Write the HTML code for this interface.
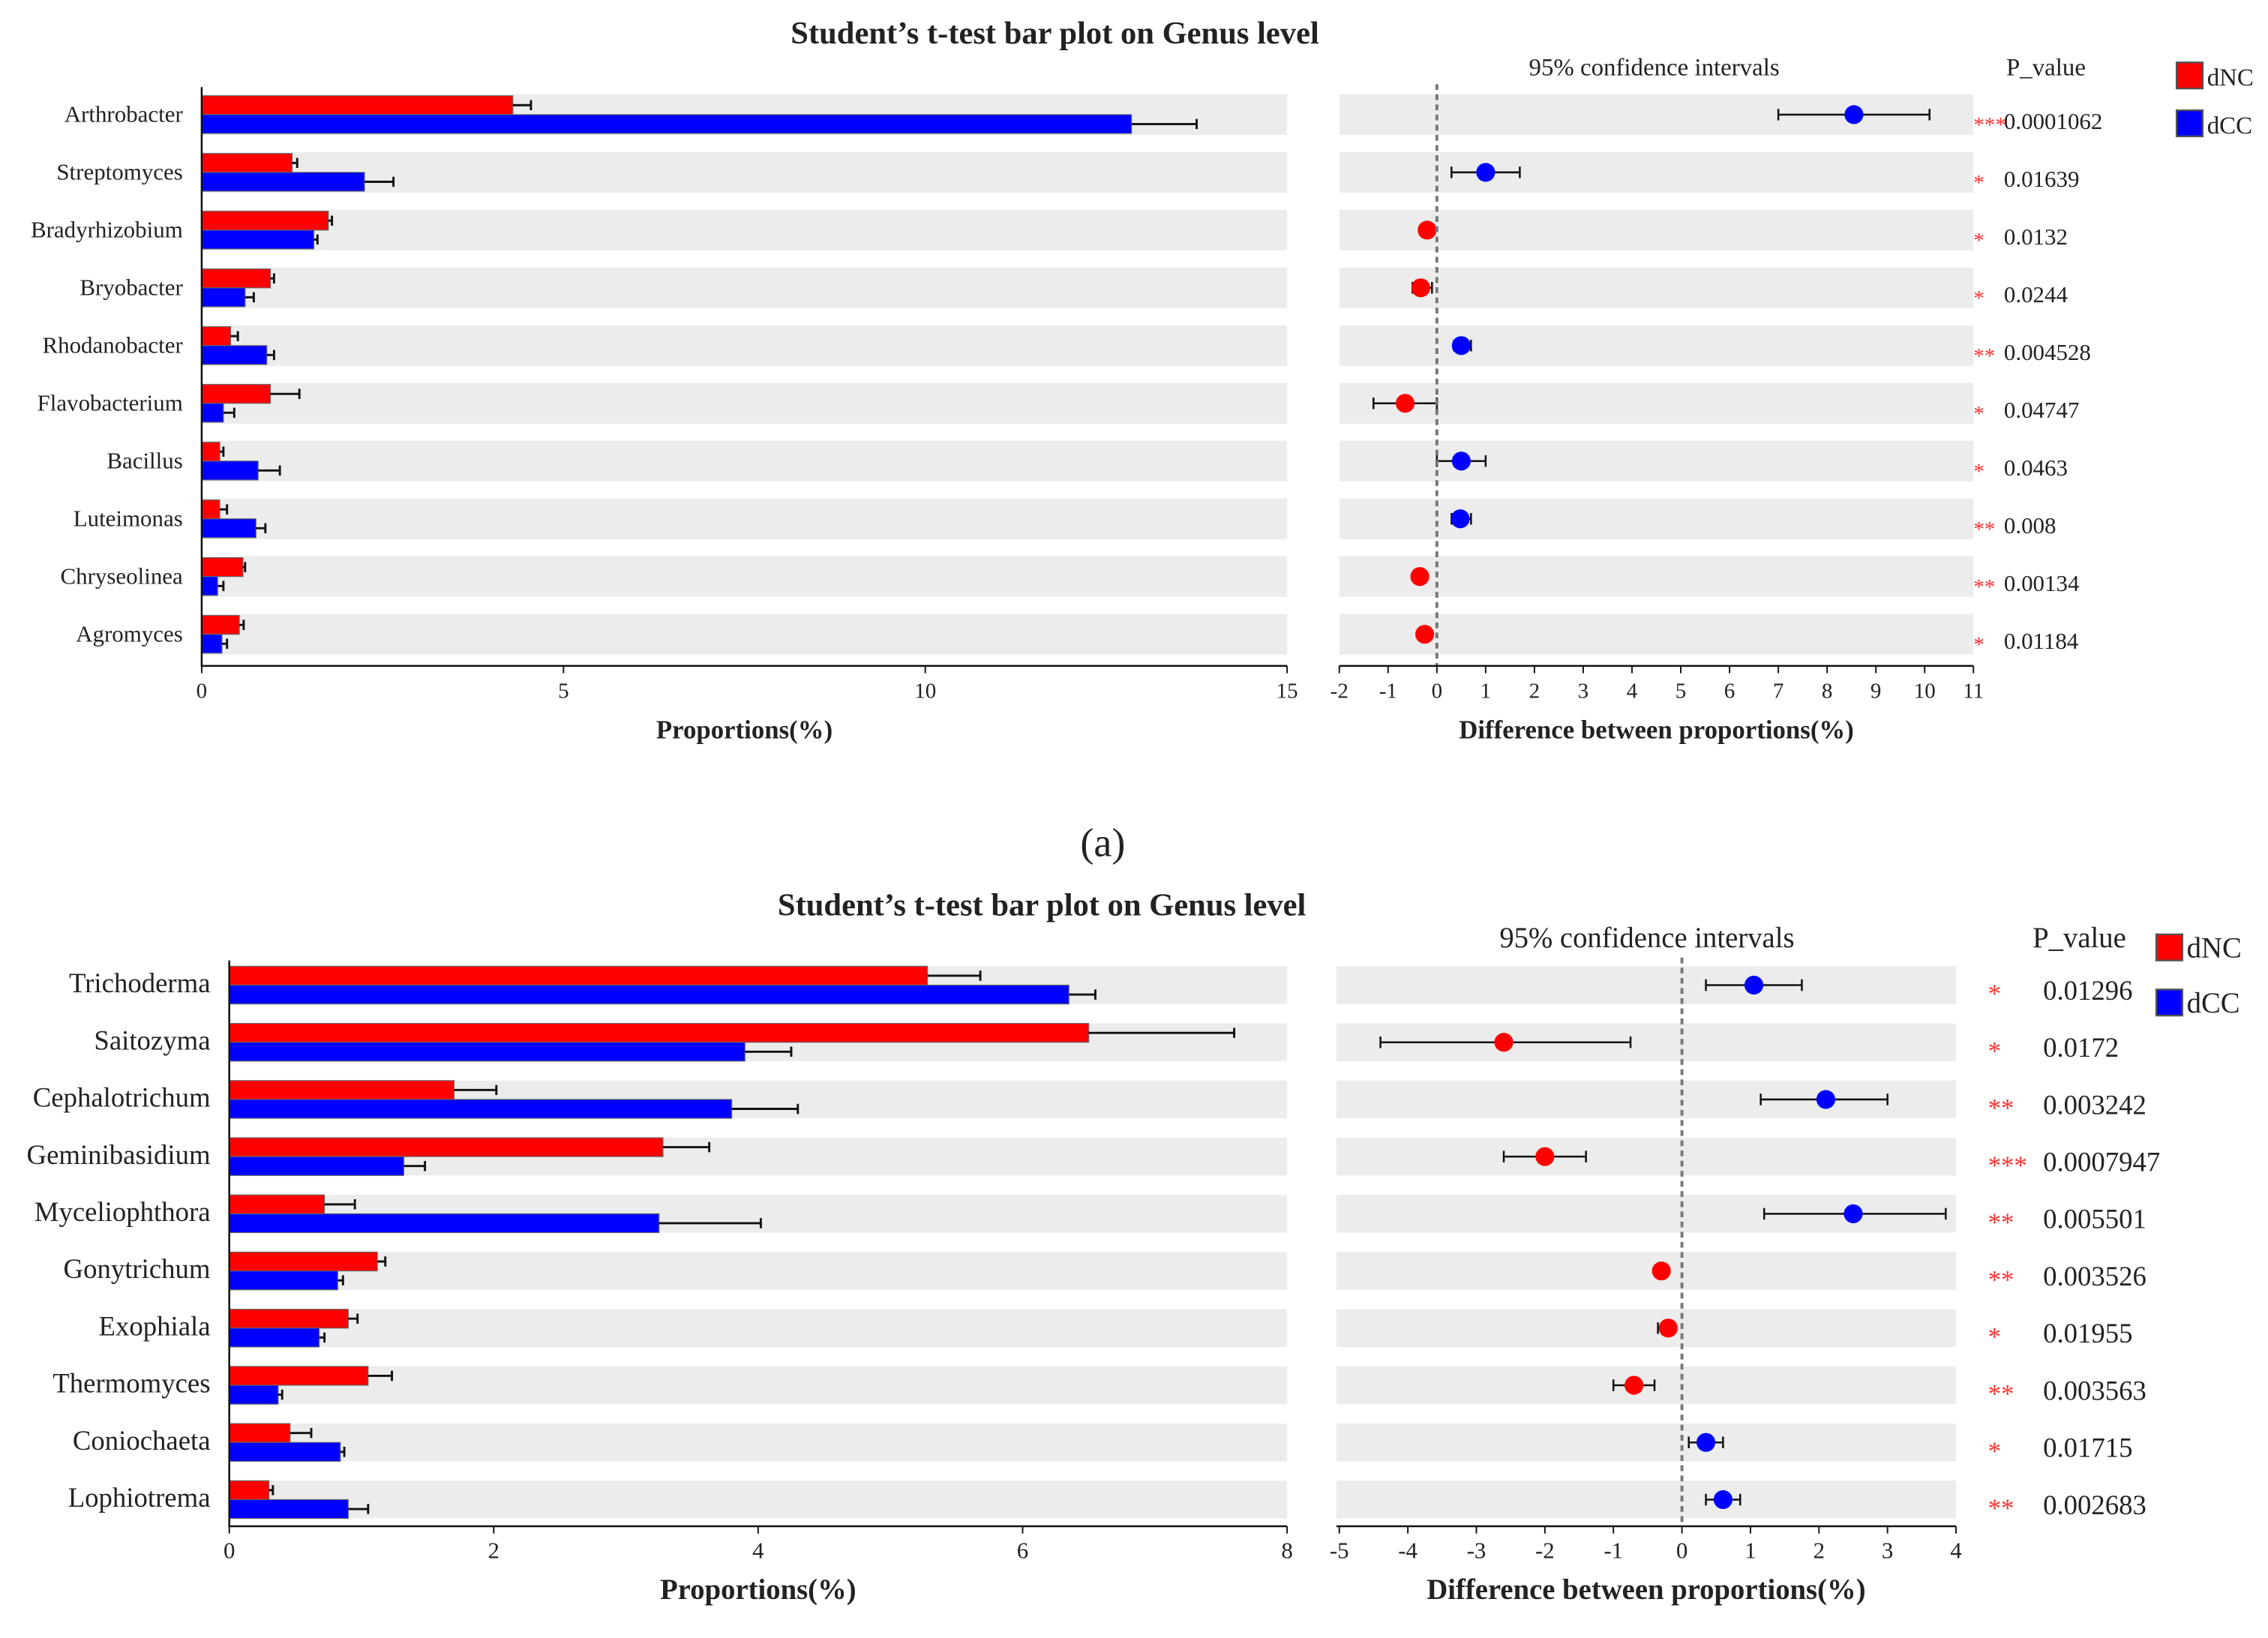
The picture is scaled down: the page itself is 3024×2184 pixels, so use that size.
<!DOCTYPE html>
<html><head><meta charset="utf-8">
<style>html,body{margin:0;padding:0;background:#fff;}svg{display:block;}text{font-family:"Liberation Serif",serif;fill:#222;}</style>
</head><body>
<svg id="chart" width="3024" height="2184" viewBox="0 0 1563 1129" preserveAspectRatio="none" xmlns="http://www.w3.org/2000/svg"></svg>
<script>
// Panel (a)
const catsA = ["Arthrobacter","Streptomyces","Bradyrhizobium","Bryobacter","Rhodanobacter","Flavobacterium","Bacillus","Luteimonas","Chryseolinea","Agromyces"];
const ncA = [4.3,1.25,1.75,0.95,0.4,0.95,0.25,0.25,0.57,0.52];
const ncErrA = [0.25,0.07,0.05,0.05,0.1,0.4,0.05,0.1,0.03,0.06];
const ccA = [12.85,2.25,1.55,0.6,0.9,0.3,0.78,0.75,0.22,0.28];
const ccErrA = [0.9,0.4,0.05,0.12,0.1,0.15,0.3,0.13,0.08,0.07];
const diffA = [8.55,1.0,-0.2,-0.33,0.5,-0.65,0.5,0.48,-0.35,-0.25];
const loA = [7.0,0.3,-0.3,-0.5,0.35,-1.3,0,0.3,-0.45,-0.35];
const hiA = [10.1,1.7,-0.1,-0.1,0.7,0,1.0,0.7,-0.25,-0.15];
const pA = ["0.0001062","0.01639","0.0132","0.0244","0.004528","0.04747","0.0463","0.008","0.00134","0.01184"];
const starsA = ["***","*","*","*","**","*","*","**","**","*"];
const ticksLA = [0,5,10,15];
const ticksRA = [-2,-1,0,1,2,3,4,5,6,7,8,9,10,11];
// Panel (b)
const catsB = ["Trichoderma","Saitozyma","Cephalotrichum","Geminibasidium","Myceliophthora","Gonytrichum","Exophiala","Thermomyces","Coniochaeta","Lophiotrema"];
const ncB = [5.28,6.5,1.7,3.28,0.72,1.12,0.9,1.05,0.46,0.3];
const ncErrB = [0.4,1.1,0.32,0.35,0.23,0.06,0.07,0.18,0.16,0.03];
const ccB = [6.35,3.9,3.8,1.32,3.25,0.82,0.68,0.37,0.84,0.9];
const ccErrB = [0.2,0.35,0.5,0.16,0.77,0.04,0.04,0.03,0.03,0.15];
const diffB = [1.05,-2.6,2.1,-2.0,2.5,-0.3,-0.2,-0.7,0.35,0.6];
const loB = [0.35,-4.4,1.15,-2.6,1.2,-0.4,-0.35,-1.0,0.1,0.35];
const hiB = [1.75,-0.75,3.0,-1.4,3.85,-0.2,-0.1,-0.4,0.6,0.85];
const pB = ["0.01296","0.0172","0.003242","0.0007947","0.005501","0.003526","0.01955","0.003563","0.01715","0.002683"];
const starsB = ["*","*","**","***","**","**","*","**","*","**"];
const ticksLB = [0,2,4,6,8];
const ticksRB = [-5,-4,-3,-2,-1,0,1,2,3,4];

const svg = document.getElementById('chart');
const NS = "http://www.w3.org/2000/svg";
function mk(tag, attrs, parent, txt){
  const e = document.createElementNS(NS, tag);
  for (const k in attrs) e.setAttribute(k, attrs[k]);
  if (txt !== undefined) e.textContent = txt;
  (parent||svg).appendChild(e);
  return e;
}

function panel(o){
  const g = mk('g', {});
  
  
  const t = mk('text', {x:o.titleX, y:o.titleY, 'font-size':o.tfs, 'font-weight':'bold', 'text-anchor':'middle'}, g, "Student\u2019s t-test bar plot on Genus level");
  
  
  const xL = v => o.lx0 + (v - o.lmin) / (o.lmax - o.lmin) * (o.lx1 - o.lx0);
  const xR = v => o.rx0 + (v - o.rmin) / (o.rmax - o.rmin) * (o.rx1 - o.rx0);
  const yC = i => o.y0 + i * o.dy;
  const bh = o.bh;
  o.cats.forEach((c, i) => {
    const y = yC(i);
    const b1 = mk('rect', {x:o.lx0, y:y-o.band/2, width:o.lx1-o.lx0, height:o.band, fill:'#ececec'}, g);
    
    
    const b2 = mk('rect', {x:o.rbx0, y:y-o.band/2, width:o.rx1-o.rbx0, height:o.band, fill:'#ececec'}, g);
    
    
    const lab = mk('text', {x:o.lx0-13, y:y+5, 'font-size':o.fs, 'text-anchor':'end'}, g, c);
    
    
    const r = mk('rect', {x:xL(0), y:y-bh, width:xL(o.nc[i])-xL(0), height:bh, fill:'#ff0000', stroke:'#666', 'stroke-width':0.6}, g);
    
    
    const b = mk('rect', {x:xL(0), y:y, width:xL(o.cc[i])-xL(0), height:bh, fill:'#0000ff', stroke:'#666', 'stroke-width':0.6}, g);
    
    
    [[o.nc[i], o.ncE[i], y-bh/2],[o.cc[i], o.ccE[i], y+bh/2]].forEach(([v,e,yy]) => {
      const eb = mk('path', {d:`M${xL(v)},${yy}H${xL(v+e)}M${xL(v+e)},${yy-3.5}V${yy+3.5}`, stroke:'#111', 'stroke-width':1.5, fill:'none'}, g);
      
      
    });
    const ci = mk('path', {d:`M${xR(o.lo[i])},${y}H${xR(o.hi[i])}M${xR(o.lo[i])},${y-4}V${y+4}M${xR(o.hi[i])},${y-4}V${y+4}`, stroke:'#111', 'stroke-width':1.3, fill:'none'}, g);
    
    
    const p = mk('circle', {cx:xR(o.diff[i]), cy:y, r:6.5, fill:o.diff[i] < 0 ? '#ff0000' : '#0000ff'}, g);
    
    
    const st = mk('text', {x:o.starX, y:y+o.starDy, 'font-size':o.fs-1, fill:'#ff3030', style:'fill:#ff3030'}, g, o.stars[i]);
    
    
    const pv = mk('text', {x:o.pX, y:y+o.pDy, 'font-size':o.fs}, g, o.p[i]);
    
    
  });
  // dashed zero line
  const zl = mk('line', {x1:xR(0), x2:xR(0), y1:o.zTop, y2:o.axY, stroke:'#777', 'stroke-width':2, 'stroke-dasharray':'4,3'}, g);
  
  
  // axes
  const la = mk('path', {d:`M${o.lx0},${o.zTop+2}V${o.axY}H${o.lx1}`, stroke:'#111', 'stroke-width':1.3, fill:'none'}, g);
  
  
  o.tL.forEach(v => {
    mk('line', {x1:xL(v), x2:xL(v), y1:o.axY, y2:o.axY+5, stroke:'#111'}, g);
    const tt = mk('text', {x:xL(v), y:o.axY+22, 'font-size':o.tks, 'text-anchor':'middle'}, g, v);
    
    
  });
  const ra = mk('line', {x1:o.rbx0, x2:o.rx1, y1:o.axY, y2:o.axY, stroke:'#111', 'stroke-width':1.3}, g);
  
  
  o.tR.forEach(v => {
    mk('line', {x1:xR(v), x2:xR(v), y1:o.axY, y2:o.axY+5, stroke:'#111'}, g);
    const tt = mk('text', {x:xR(v), y:o.axY+22, 'font-size':o.tks, 'text-anchor':'middle'}, g, v);
    
    
  });
  const xl = mk('text', {x:(o.lx0+o.lx1)/2, y:o.axY+50, 'font-size':o.afs, 'font-weight':'bold', 'text-anchor':'middle'}, g, 'Proportions(%)');
  
  
  const xr = mk('text', {x:(o.rbx0+o.rx1)/2, y:o.axY+50, 'font-size':o.afs, 'font-weight':'bold', 'text-anchor':'middle'}, g, 'Difference between proportions(%)');
  
  
  const ct = mk('text', {x:o.ciX, y:o.hdrY, 'font-size':o.fs+1, 'text-anchor':'middle'}, g, '95% confidence intervals');
  
  
  const ph = mk('text', {x:o.phX, y:o.hdrY, 'font-size':o.fs+1, 'text-anchor':'middle'}, g, 'P_value');
  
  
  [['#ff0000','dNC',0],['#0000ff','dCC',1]].forEach(([col,lab,k]) => {
    const lg = mk('g', {}, g);
    
    
    mk('rect', {x:o.legX, y:o.legY + k*o.legDy, width:18, height:18, fill:col, stroke:'#555', 'stroke-width':1.2}, lg);
    mk('text', {x:o.legX+21, y:o.legY + k*o.legDy + 16, 'font-size':o.fs+1}, lg, lab);
  });
}

panel({name:'panel-a', cats:catsA, nc:ncA, ncE:ncErrA, cc:ccA, ccE:ccErrA, diff:diffA, lo:loA, hi:hiA, p:pA, stars:starsA, tL:ticksLA, tR:ticksRA,
  titleX:727, titleY:30, tfs:22, fs:16, tks:15, afs:18,
  lx0:139, lx1:887, lmin:0, lmax:15, rx0:923, rx1:1360, rbx0:923, rmin:-2, rmax:11,
  y0:79, dy:39.8, band:28, bh:13, axY:459, zTop:58,
  starX:1360, starDy:12, pX:1381, pDy:10, ciX:1140, phX:1410, hdrY:52, legX:1500, legY:43, legDy:33});

const aLab = mk('text', {x:760, y:590, 'font-size':28, 'text-anchor':'middle'}, svg, '(a)');



panel({name:'panel-b', cats:catsB, nc:ncB, ncE:ncErrB, cc:ccB, ccE:ccErrB, diff:diffB, lo:loB, hi:hiB, p:pB, stars:starsB, tL:ticksLB, tR:ticksRB,
  titleX:718, titleY:631, tfs:22, fs:19, tks:16, afs:20,
  lx0:158, lx1:887, lmin:0, lmax:8, rx0:923, rx1:1348, rbx0:921, rmin:-5, rmax:4,
  y0:679, dy:39.4, band:26, bh:13, axY:1052, zTop:660,
  starX:1370, starDy:12, pX:1408, pDy:10, ciX:1135, phX:1433, hdrY:653, legX:1486, legY:644, legDy:38});
</script>
</body></html>
